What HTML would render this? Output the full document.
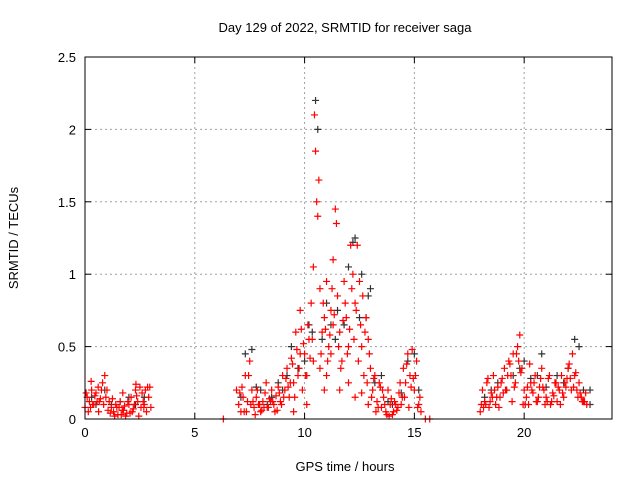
<!DOCTYPE html>
<html><head><meta charset="utf-8"><style>
body{margin:0;background:#fff}
svg text{font-family:"Liberation Sans",sans-serif;font-size:13px;fill:#000}
</style></head><body>
<svg id="chart" width="640" height="480" viewBox="0 0 640 480" xmlns="http://www.w3.org/2000/svg">
<rect width="640" height="480" fill="#fff"/>
<text x="345" y="32" text-anchor="middle">Day 129 of 2022, SRMTID for receiver saga</text>
<text x="345" y="471" text-anchor="middle">GPS time / hours</text>
<text transform="translate(18,238) rotate(-90)" text-anchor="middle">SRMTID / TECUs</text>
<g id="grid"></g>
<g id="ticks"></g>
<g id="black"></g>
<g id="red"></g>
<rect x="85" y="57" width="527" height="362" fill="none" stroke="#000" stroke-width="1"/>
</svg>
<script>
const xTicks=[0,5,10,15,20];
const yTicks=[0,0.5,1,1.5,2,2.5];
const yTickLabels=["0","0.5","1","1.5","2","2.5"];
const redT=[0.0,0.1,0.2,0.3,0.4,0.5,0.6,0.7,0.8,0.9,1.0,1.1,1.2,1.3,1.4,1.5,1.6,1.7,1.8,1.9,2.0,2.1,2.2,2.3,2.4,2.5,2.6,2.7,2.8,2.9,3.0,0.15,0.35,0.55,0.75,0.95,1.25,1.55,1.85,2.15,2.45,2.75,2.95,
6.3,6.9,7.0,7.1,7.2,7.3,7.4,7.5,7.6,7.7,7.8,7.9,8.0,8.1,8.2,8.3,8.4,8.5,8.6,8.7,8.8,8.9,9.0,9.1,9.2,9.3,9.4,9.5,9.6,9.7,9.8,9.9,10.0,10.1,10.2,10.3,10.4,10.45,10.5,10.55,10.6,10.65,10.7,10.8,10.9,11.0,11.1,11.2,11.3,11.4,11.45,11.5,11.6,11.7,11.8,11.9,12.0,12.1,12.2,12.3,12.4,12.5,12.6,12.7,12.8,12.9,13.0,13.1,13.2,13.3,13.4,13.5,13.6,13.7,13.8,13.9,14.0,14.1,14.2,14.3,14.4,14.5,14.6,14.7,14.8,14.9,15.0,15.1,15.2,15.3,15.5,15.7,
9.5,9.8,10.1,10.4,10.7,11.0,11.3,11.6,12.0,12.3,12.6,12.9,10.9,11.2,7.25,7.55,7.85,8.15,8.45,8.75,9.05,9.35,13.25,13.55,13.85,14.15,14.45,14.75,15.05,
18.0,18.1,18.2,18.3,18.4,18.5,18.6,18.7,18.8,18.9,19.0,19.1,19.2,19.3,19.4,19.5,19.6,19.7,19.8,19.9,20.0,20.1,20.2,20.3,20.4,20.5,20.6,20.7,20.8,20.9,21.0,21.1,21.2,21.3,21.4,21.5,21.6,21.7,21.8,21.9,22.0,22.1,22.2,22.3,22.4,22.5,22.6,22.7,22.8,18.25,18.55,18.85,19.15,19.45,19.75,20.05,20.35,20.65,20.95,21.25,21.55,21.85,22.15,22.45,22.75,
0.05,0.25,0.45,0.65,0.85,1.05,1.35,1.45,1.65,1.75,1.95,2.05,2.25,2.35,2.55,2.65,2.85,0.28,0.62,1.15,1.72,2.32,2.68,
7.05,7.15,7.35,7.45,7.65,7.75,7.95,8.05,8.25,8.35,8.55,8.65,8.85,8.95,9.15,9.25,9.45,9.55,9.65,9.75,9.85,9.95,10.05,10.15,10.25,10.35,10.75,10.85,10.95,11.05,11.15,11.25,11.35,11.55,11.65,11.75,11.85,11.95,12.05,12.15,12.25,12.35,12.45,12.55,12.65,12.75,12.85,12.95,13.05,13.15,13.35,13.45,13.65,13.75,13.95,14.05,14.25,14.35,14.55,14.65,14.85,14.95,15.15,15.25,
18.05,18.15,18.35,18.45,18.65,18.75,18.95,19.05,19.25,19.35,19.55,19.65,19.85,19.95,20.15,20.25,20.45,20.55,20.75,20.85,21.05,21.15,21.35,21.45,21.65,21.75,21.95,22.05,22.25,22.35,22.55,22.65,22.85,22.95];
const redV=[0.08,0.15,0.12,0.2,0.1,0.18,0.22,0.14,0.25,0.3,0.2,0.12,0.08,0.05,0.1,0.03,0.12,0.06,0.09,0.04,0.1,0.15,0.07,0.2,0.12,0.22,0.18,0.1,0.05,0.15,0.08,0.05,0.1,0.12,0.2,0.15,0.14,0.08,0.02,0.05,0.02,0.2,0.22,
0.0,0.2,0.1,0.05,0.15,0.3,0.12,0.4,0.2,0.08,0.15,0.1,0.05,0.12,0.18,0.08,0.14,0.2,0.1,0.16,0.22,0.12,0.3,0.2,0.35,0.15,0.42,0.25,0.6,0.3,0.75,0.2,0.45,0.1,0.55,0.8,1.05,2.1,1.85,1.5,1.4,1.65,0.9,0.6,0.7,0.95,0.5,0.75,1.1,1.45,1.35,0.85,0.6,0.4,0.95,0.7,0.5,1.2,1.0,0.8,1.2,0.95,0.5,0.3,0.7,0.55,0.35,0.2,0.3,0.12,0.25,0.08,0.15,0.05,0.2,0.1,0.03,0.12,0.06,0.18,0.1,0.35,0.25,0.45,0.3,0.48,0.2,0.4,0.1,0.05,0.0,0.0,
0.05,0.45,0.3,0.4,0.35,0.3,0.65,0.2,0.25,0.15,0.18,0.1,0.2,0.45,0.05,0.1,0.2,0.08,0.12,0.06,0.15,0.25,0.05,0.2,0.02,0.1,0.15,0.08,0.3,
0.05,0.2,0.12,0.25,0.08,0.18,0.3,0.1,0.22,0.15,0.28,0.35,0.2,0.4,0.3,0.45,0.25,0.5,0.58,0.35,0.2,0.15,0.1,0.25,0.18,0.3,0.12,0.22,0.35,0.2,0.15,0.28,0.1,0.18,0.25,0.12,0.2,0.3,0.15,0.22,0.35,0.28,0.45,0.3,0.2,0.25,0.15,0.12,0.18,0.1,0.15,0.08,0.2,0.12,0.4,0.1,0.2,0.15,0.1,0.12,0.22,0.25,0.2,0.15,
0.12,0.18,0.08,0.16,0.12,0.1,0.06,0.02,0.08,0.03,0.06,0.12,0.04,0.1,0.16,0.08,0.12,0.22,0.26,0.05,0.04,0.18,0.24,
0.08,0.18,0.22,0.05,0.3,0.12,0.03,0.1,0.06,0.25,0.08,0.12,0.05,0.18,0.1,0.28,0.22,0.38,0.15,0.48,0.35,0.62,0.52,0.3,0.65,0.42,0.55,0.45,0.8,0.62,0.4,0.58,0.9,0.72,0.5,0.35,0.68,0.8,0.45,0.62,0.9,0.55,0.75,0.4,0.65,0.85,0.6,0.25,0.45,0.15,0.28,0.08,0.22,0.1,0.03,0.14,0.05,0.08,0.25,0.15,0.38,0.22,0.28,0.08,
0.15,0.1,0.08,0.28,0.12,0.2,0.15,0.25,0.18,0.3,0.38,0.22,0.45,0.32,0.1,0.22,0.38,0.25,0.12,0.28,0.22,0.12,0.3,0.16,0.25,0.1,0.18,0.28,0.38,0.22,0.32,0.18,0.12,0.1];
const blackT=[0.5,1.2,2.0,2.7,7.3,7.6,8.0,8.5,9.0,9.4,10.2,10.5,10.6,11.0,11.5,12.0,12.3,12.6,12.9,13.0,13.5,14.0,14.7,15.0,18.5,19.5,20.0,20.8,21.5,22.3,22.5,23.0,23.0,10.8,11.8,12.2,12.8,
0.3,0.9,1.6,2.3,7.1,7.8,8.3,8.8,9.2,9.7,10.0,10.35,11.2,11.4,12.5,13.2,13.8,14.4,15.2,18.2,18.8,19.2,19.8,20.3,20.6,21.0,21.8,22.0,22.7];
const blackV=[0.1,0.1,0.15,0.15,0.45,0.48,0.2,0.15,0.2,0.5,0.65,2.2,2.0,0.8,0.75,1.05,1.25,1.0,0.85,0.9,0.3,0.1,0.4,0.45,0.2,0.3,0.4,0.45,0.3,0.55,0.5,0.1,0.2,0.55,0.65,1.22,0.7,
0.15,0.2,0.12,0.1,0.15,0.22,0.1,0.25,0.3,0.35,0.4,0.6,0.65,0.55,0.7,0.25,0.12,0.18,0.2,0.15,0.25,0.2,0.35,0.28,0.3,0.22,0.25,0.35,0.2];
const X0=85,X1=612,Y0=419,Y1=57;
const xs=v=>X0+v*(X1-X0)/24, ys=v=>Y0-v*(Y0-Y1)/2.5;
const NS="http://www.w3.org/2000/svg";
function mk(tag,attrs,parent){const e=document.createElementNS(NS,tag);for(const k in attrs)e.setAttribute(k,attrs[k]);parent.appendChild(e);return e;}
const grid=document.getElementById('grid'),ticks=document.getElementById('ticks');
xTicks.forEach(t=>{const x=xs(t);
 if(t>0){const g=mk('line',{x1:x,x2:x,y1:Y0,y2:Y1,stroke:'#a0a0a0','stroke-dasharray':'2,3'},grid);}
 const tl=mk('text',{x:x,y:Y0+18,'text-anchor':'middle'},ticks);tl.textContent=t;
 
 
 mk('line',{x1:x,x2:x,y1:Y0,y2:Y0-6,stroke:'#000'},ticks);mk('line',{x1:x,x2:x,y1:Y1,y2:Y1+6,stroke:'#000'},ticks);});
yTicks.forEach((t,i)=>{const y=ys(t);
 if(t>0&&t<2.5){const g=mk('line',{x1:X0,x2:X1,y1:y,y2:y,stroke:'#a0a0a0','stroke-dasharray':'2,3'},grid);}
 const tl=mk('text',{x:X0-9,y:y+5,'text-anchor':'end'},ticks);tl.textContent=yTickLabels[i];
 
 
 mk('line',{x1:X0,x2:X0+6,y1:y,y2:y,stroke:'#000'},ticks);mk('line',{x1:X1,x2:X1-6,y1:y,y2:y,stroke:'#000'},ticks);});
function plus(g,t,v,col){const x=xs(t),y=ys(v);
 const p=mk('path',{d:`M${x-3.5},${y}H${x+3.5}M${x},${y-3.5}V${y+3.5}`,stroke:col,'stroke-width':1.2,fill:'none'},g);
 
 }
const bg=document.getElementById('black'),rg=document.getElementById('red');
blackT.forEach((t,i)=>plus(bg,t,blackV[i],'#333'));
redT.forEach((t,i)=>plus(rg,t,redV[i],'#f00'));
</script>
</body></html>
